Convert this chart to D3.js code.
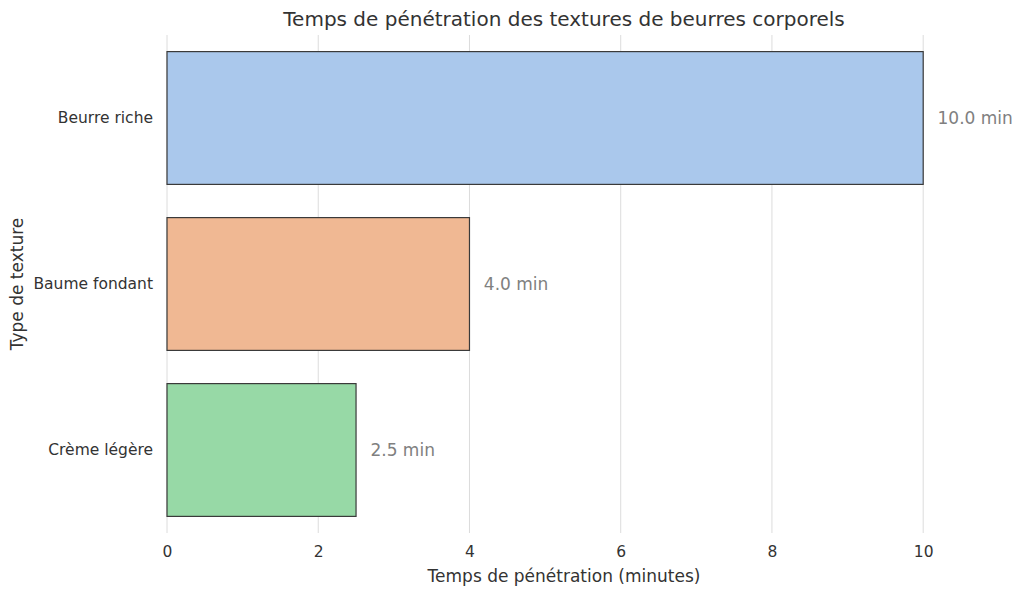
<!DOCTYPE html>
<html>
<head>
<meta charset="utf-8">
<script src="https://cdn.jsdelivr.net/npm/d3@7"></script>
<style>
  body { margin: 0; background: #fff; }
  text { font-family: "DejaVu Sans", sans-serif; }
</style>
</head>
<body>
<svg id="chart" width="1024" height="595"></svg>
<script>
// data
const categories = ["Beurre riche", "Baume fondant", "Crème légère"];
const minutes = [10.0, 4.0, 2.5];
const xTicks = [0, 2, 4, 6, 8, 10];
const barColors = ["#aac8ec", "#f0b893", "#97d9a6"];

const svg = d3.select("#chart");
const margin = {top: 35, right: 63, bottom: 62, left: 167};
const width = 1024 - margin.left - margin.right;
const height = 595 - margin.top - margin.bottom;

const g = svg.append("g")
    .attr("transform", `translate(${margin.left},${margin.top})`);

const x = d3.scaleLinear().domain([0, 10.5]).range([0, width]);
const y = d3.scaleBand().domain(categories).range([0, height])
    .paddingInner(0.2).paddingOuter(0.1);

// vertical grid
g.selectAll(".grid")
    .data(xTicks)
    .join("line")
    .attr("x1", d => x(d))
    .attr("x2", d => x(d))
    .attr("y1", 0)
    .attr("y2", height)
    .attr("stroke", "#dcdcdc")
    .attr("stroke-width", 1);

// bars
g.selectAll(".bar")
    .data(categories)
    .join("rect")
    .attr("x", x(0))
    .attr("y", d => y(d))
    .attr("width", (d, i) => x(minutes[i]) - x(0))
    .attr("height", y.bandwidth())
    .attr("fill", (d, i) => barColors[i])
    .attr("stroke", "#3a3a3a")
    .attr("stroke-width", 1.2);

// value labels
g.selectAll(".val")
    .data(categories)
    .join("text")
    .attr("x", (d, i) => x(minutes[i] + 0.19))
    .attr("y", d => y(d) + y.bandwidth() / 2)
    .attr("dy", "0.35em")
    .attr("font-size", "17px")
    .attr("fill", "#808080")
    .text((d, i) => `${minutes[i].toFixed(1)} min`);

// x axis
const xAxis = g.append("g")
    .attr("transform", `translate(0,${height})`)
    .call(d3.axisBottom(x).tickValues(xTicks).tickSize(0).tickPadding(13));
xAxis.attr("font-size", null).attr("font-family", null);
xAxis.select(".domain").remove();
xAxis.selectAll("text")
    .style("font-size", "15.5px")
    .attr("fill", "#333");

// y axis
const yAxis = g.append("g")
    .call(d3.axisLeft(y).tickSize(0).tickPadding(14));
yAxis.attr("font-size", null).attr("font-family", null);
yAxis.select(".domain").remove();
yAxis.selectAll("text")
    .style("font-size", "15.5px")
    .attr("fill", "#333");

// title
svg.append("text")
    .attr("x", margin.left + width / 2)
    .attr("y", 26)
    .attr("text-anchor", "middle")
    .attr("font-size", "20px")
    .attr("fill", "#333")
    .text("Temps de pénétration des textures de beurres corporels");

// axis labels
svg.append("text")
    .attr("x", margin.left + width / 2)
    .attr("y", 582)
    .attr("text-anchor", "middle")
    .attr("font-size", "17px")
    .attr("fill", "#333")
    .text("Temps de pénétration (minutes)");

svg.append("text")
    .attr("transform", `translate(23,${margin.top + height / 2}) rotate(-90)`)
    .attr("text-anchor", "middle")
    .attr("font-size", "17px")
    .attr("fill", "#333")
    .text("Type de texture");
</script>
</body>
</html>
